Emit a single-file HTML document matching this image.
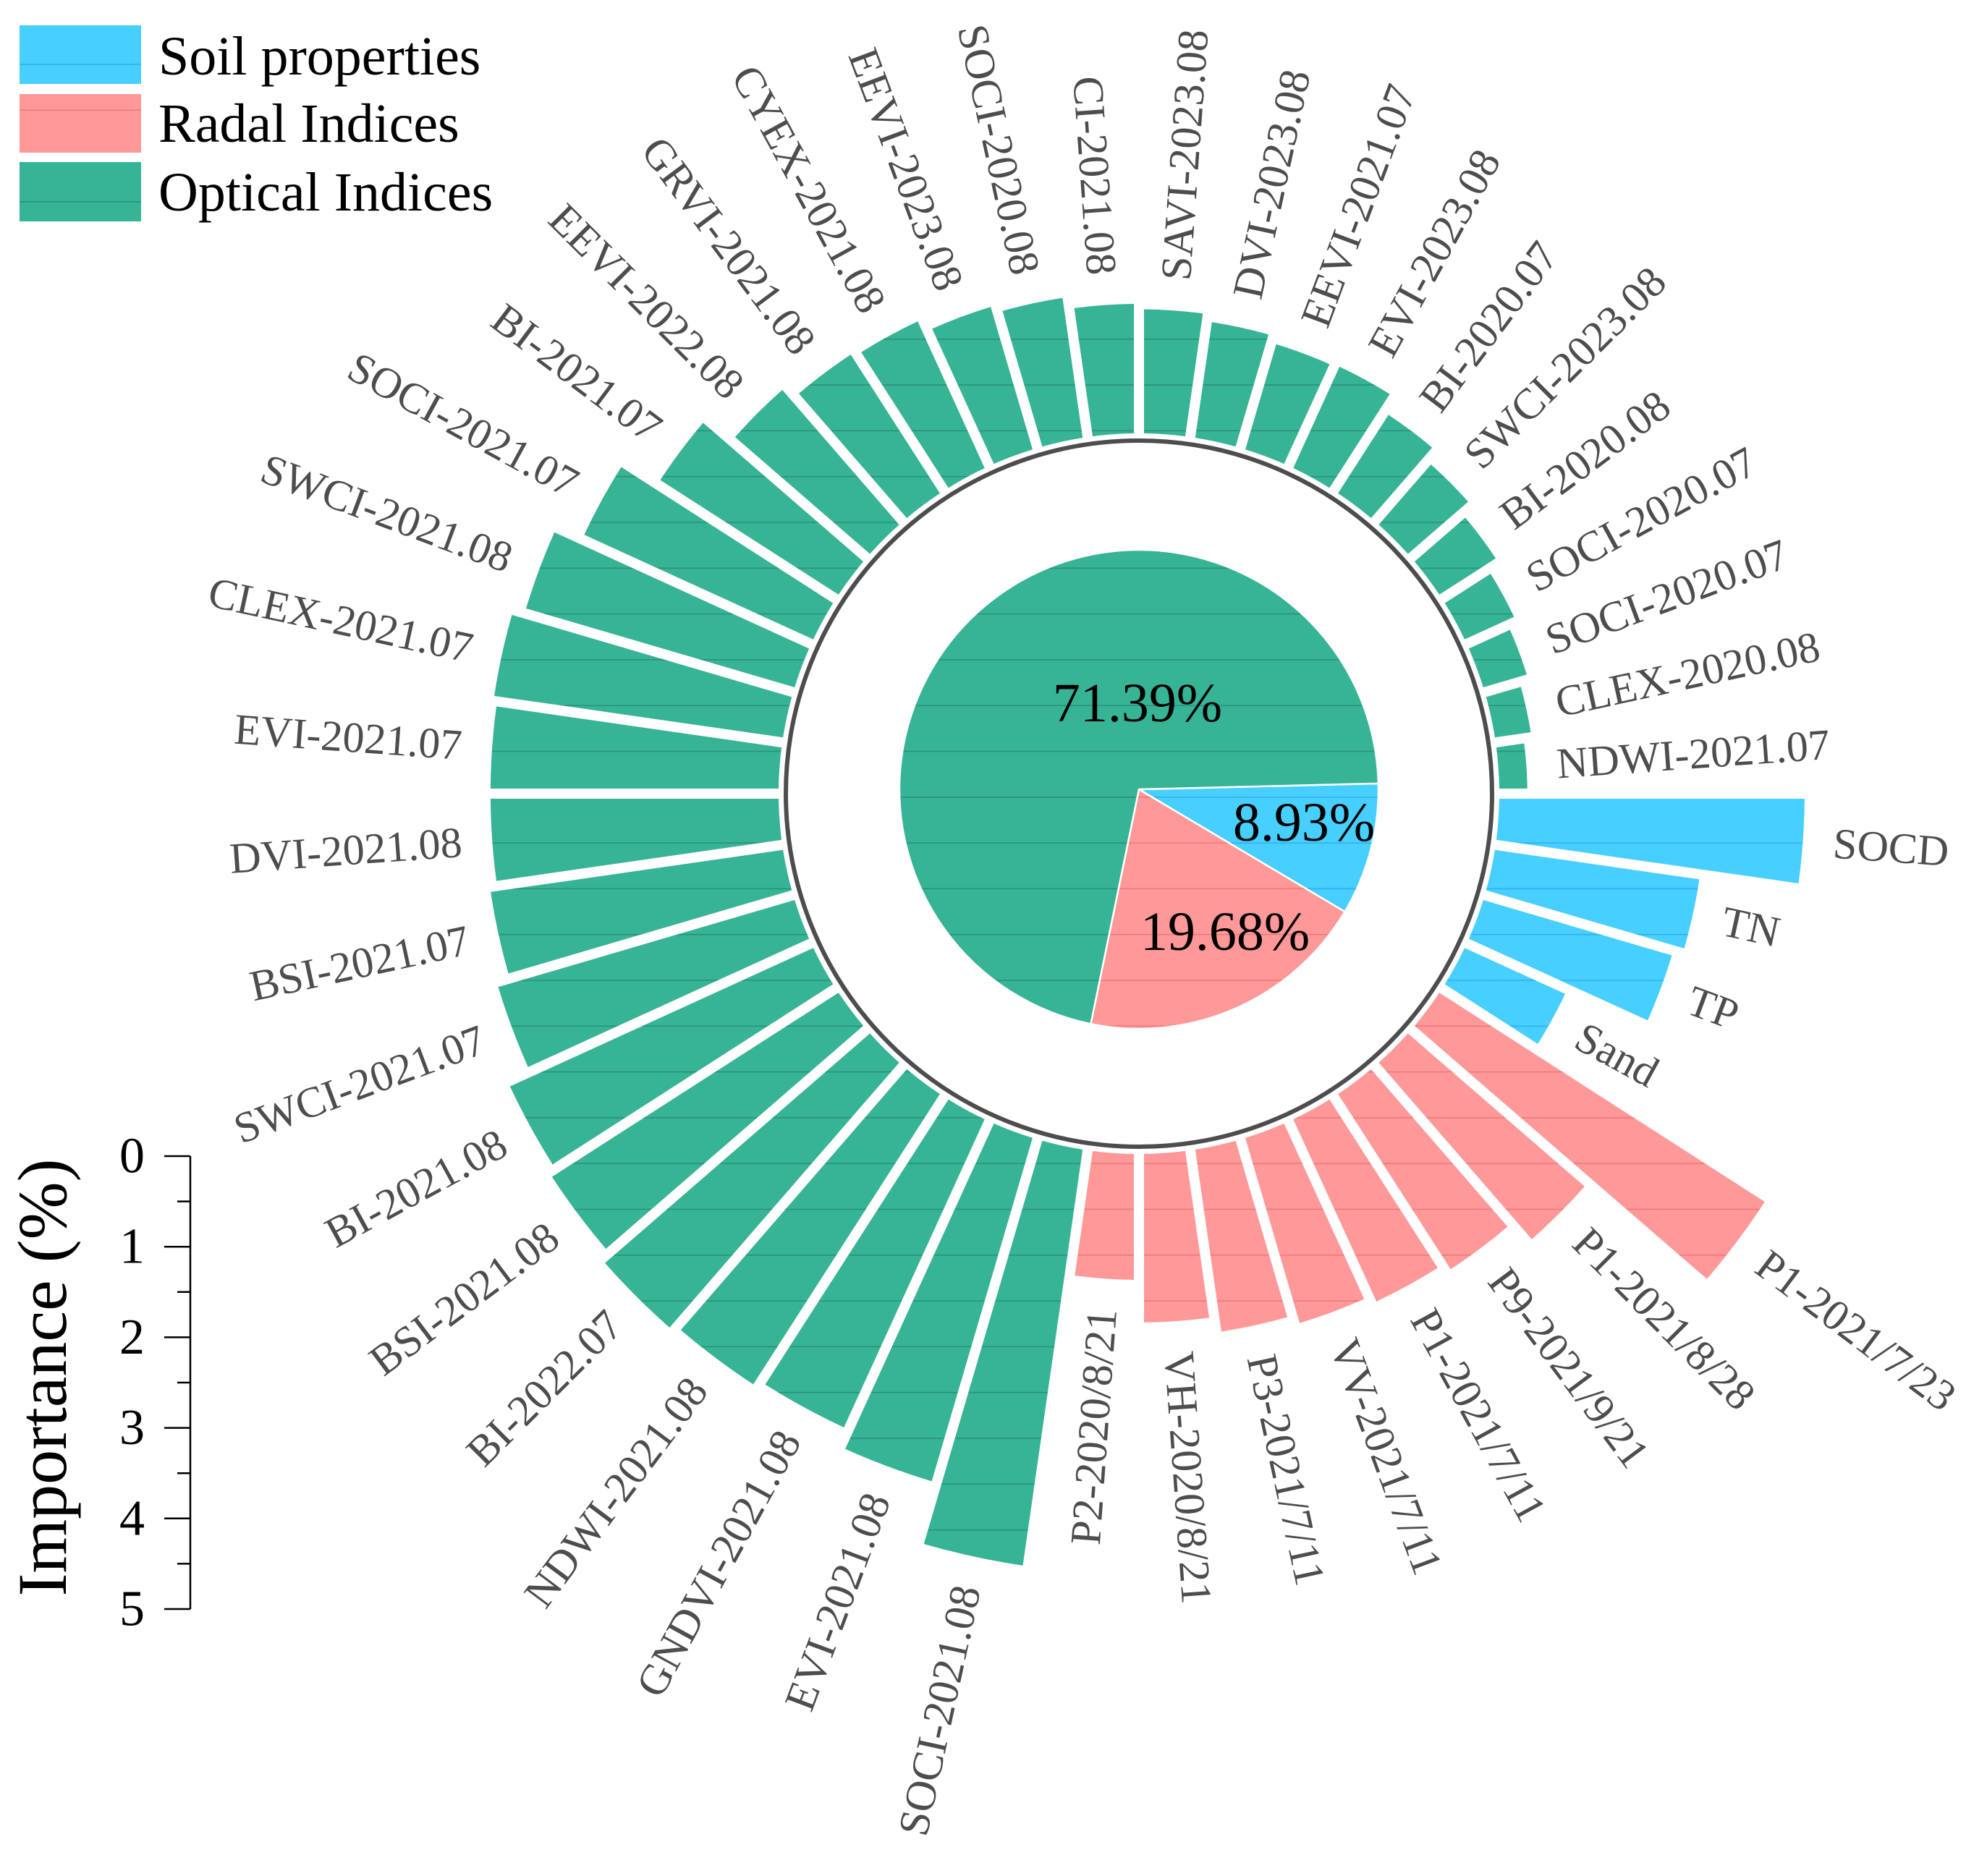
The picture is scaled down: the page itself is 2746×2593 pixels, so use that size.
<!DOCTYPE html>
<html><head><meta charset="utf-8"><style>
html,body{margin:0;padding:0;background:#fff}
svg{display:block}
svg text{font-family:"Liberation Serif","Times New Roman",serif}
</style></head><body>
<svg id="chart" width="2746" height="2593" viewBox="0 0 2746 2593" xmlns="http://www.w3.org/2000/svg" font-family="Liberation Serif, serif">
<defs>
<pattern id="pg" patternUnits="userSpaceOnUse" x="0" y="1101" width="40" height="63.3"><rect width="40" height="63.3" fill="#37b496"/><rect y="0" width="40" height="1.6" fill="#2b9178"/></pattern>
<pattern id="pp" patternUnits="userSpaceOnUse" x="0" y="1101" width="40" height="63.3"><rect width="40" height="63.3" fill="#ff9999"/><rect y="0" width="40" height="1.6" fill="#f07878"/></pattern>
<pattern id="pb" patternUnits="userSpaceOnUse" x="0" y="1101" width="40" height="63.3"><rect width="40" height="63.3" fill="#47cfff"/><rect y="0" width="40" height="1.6" fill="#2fb0f0"/></pattern>
</defs>
<g id="legend">
<rect x="27" y="35" width="168" height="81" fill="url(#pb)"/>
<text x="219" y="103" font-size="76" fill="#000" font-family="Liberation Serif, serif">Soil properties</text>
<rect x="27" y="130" width="168" height="81" fill="url(#pp)"/>
<text x="219" y="196" font-size="76" fill="#000" font-family="Liberation Serif, serif">Radal Indices</text>
<rect x="27" y="224" width="168" height="82" fill="url(#pg)"/>
<text x="219" y="291" font-size="76" fill="#000" font-family="Liberation Serif, serif">Optical Indices</text>
</g>
<g id="axis"></g>
<g id="bars"></g>
<g id="labels"></g>
<circle cx="1574" cy="1097" r="488" fill="none" stroke="#4d4d4d" stroke-width="6"/>
<g id="pie"></g>
</svg>
<script>
const categories = ["SOCD","TN","TP","Sand",
"P1-2021/7/23","P1-2021/8/28","P9-2021/9/21","P1-2021/7/11","VV-2021/7/11","P3-2021/7/11","VH-2020/8/21","P2-2020/8/21",
"SOCI-2021.08","EVI-2021.08","GNDVI-2021.08","NDWI-2021.08","BI-2022.07","BSI-2021.08","BI-2021.08","SWCI-2021.07","BSI-2021.07","DVI-2021.08","EVI-2021.07","CLEX-2021.07","SWCI-2021.08","SOCI-2021.07","BI-2021.07","EEVI-2022.08","GRVI-2021.08","CYEX-2021.08","EEVI-2023.08","SOCI-2020.08","CI-2021.08","SAVI-2023.08","DVI-2023.08","EEVI-2021.07","EVI-2023.08","BI-2020.07","SWCI-2023.08","BI-2020.08","SOCI-2020.07","SOCI-2020.07","CLEX-2020.08","NDWI-2021.07"];
const groups = ["soil","soil","soil","soil",
"radar","radar","radar","radar","radar","radar","radar","radar",
"optical","optical","optical","optical","optical","optical","optical","optical","optical","optical","optical","optical","optical","optical","optical","optical","optical","optical","optical","optical","optical","optical","optical","optical","optical","optical","optical","optical","optical","optical","optical","optical"];
const importance = [3.37,2.28,2.17,1.22,
4.27,2.58,2.30,2.21,2.13,2.03,1.86,1.39,
4.64,3.95,3.74,3.81,3.87,3.76,3.68,3.41,3.26,3.18,3.18,3.22,3.09,2.78,2.34,1.97,1.82,1.78,1.64,1.56,1.43,1.37,1.29,1.21,1.23,1.03,0.88,0.74,0.60,0.50,0.40,0.31];
const pieLabels = ["8.93%","19.68%","71.39%"];
const pieValues = [8.93,19.68,71.39];
const pieGroups = ["soil","radar","optical"];
const axisTicks = [0,1,2,3,4,5];

const NS="http://www.w3.org/2000/svg";
const FF="Liberation Serif, serif";
const CX=1574, CY=1097, R0=498, PX=125.2, GAP=7;
const fills={soil:"url(#pb)",radar:"url(#pp)",optical:"url(#pg)"};
function rScale(v){return R0+v*PX;}
function mk(tag,attrs,parent){const e=document.createElementNS(NS,tag);for(const k in attrs)e.setAttribute(k,attrs[k]);parent.appendChild(e);return e;}
const rad=d=>d*Math.PI/180;
const step=360/categories.length;
const barsG=document.getElementById('bars'), labG=document.getElementById('labels');
categories.forEach((c,i)=>{
  const a1=rad(i*step), a2=rad((i+1)*step);
  const R=rScale(importance[i]);
  const u1=[Math.cos(a1),Math.sin(a1)], n1=[-Math.sin(a1),Math.cos(a1)];
  const u2=[Math.cos(a2),Math.sin(a2)], n2=[Math.sin(a2),-Math.cos(a2)];
  const pt=(u,n,r)=>{const t=Math.sqrt(r*r-GAP*GAP);return [CX+t*u[0]+GAP*n[0],CY+t*u[1]+GAP*n[1]];};
  const i1=pt(u1,n1,R0),o1=pt(u1,n1,R),o2=pt(u2,n2,R),i2=pt(u2,n2,R0);
  const d=`M${i1[0]},${i1[1]} L${o1[0]},${o1[1]} A${R},${R} 0 0 1 ${o2[0]},${o2[1]} L${i2[0]},${i2[1]} A${R0},${R0} 0 0 0 ${i1[0]},${i1[1]} Z`;
  const p=mk('path',{d:d,fill:fills[groups[i]]},barsG);
  
  
  const am=(i+0.5)*step, rl=R+42;
  const x=CX+rl*Math.cos(rad(am)), y=CY+rl*Math.sin(rad(am));
  const left=am>90&&am<270;
  const t=mk('text',{x:x,y:y,'font-size':60,'font-family':FF,fill:'#4d4d4d','dominant-baseline':'central','text-anchor':left?'end':'start',transform:`rotate(${left?am-180:am} ${x} ${y})`},labG);
  t.textContent=c;
  
  
});
const pieG=document.getElementById('pie');
const PCX=1574,PCY=1091,PR=331;
let start=-1.4;
const total=pieValues.reduce((a,b)=>a+b,0);
pieValues.forEach((v,k)=>{
  const sweep=v/total*360, a1=rad(start), a2=rad(start+sweep);
  const x1=PCX+PR*Math.cos(a1),y1=PCY+PR*Math.sin(a1),x2=PCX+PR*Math.cos(a2),y2=PCY+PR*Math.sin(a2);
  const p=mk('path',{d:`M${PCX},${PCY} L${x1},${y1} A${PR},${PR} 0 ${sweep>180?1:0} 1 ${x2},${y2} Z`,fill:fills[pieGroups[k]],stroke:'#fff','stroke-width':2.5},pieG);
  
  
  start+=sweep;
});
const pctPos=[[1802,1162],[1693,1313],[1572,997]];
pieLabels.forEach((s,k)=>{
  const t=mk('text',{x:pctPos[k][0],y:pctPos[k][1],'font-size':76,'font-family':FF,fill:'#000','text-anchor':'middle'},pieG);
  t.textContent=s;
  
  
});
const axG=document.getElementById('axis');
const AX=263, AY0=1598;
const yA=v=>AY0+v*PX;
const ln=mk('line',{x1:AX,y1:yA(0),x2:AX,y2:yA(5),stroke:'#000','stroke-width':2.5},axG);


for(let v=0;v<=5;v+=0.5){
  const major=Number.isInteger(v);
  const tk=mk('line',{x1:major?227:245,y1:yA(v),x2:AX,y2:yA(v),stroke:'#000','stroke-width':2.5},axG);
  
  
}
axisTicks.forEach(v=>{
  const t=mk('text',{x:200,y:yA(v),'font-size':70,'font-family':FF,fill:'#000','text-anchor':'end','dominant-baseline':'central'},axG);
  t.textContent=v;
  
  
});
const title=mk('text',{x:0,y:0,'font-size':96,'font-family':FF,fill:'#000','text-anchor':'middle',transform:'translate(91,1904) rotate(-90)'},axG);
title.textContent='Importance (%)';


</script>
</body></html>
